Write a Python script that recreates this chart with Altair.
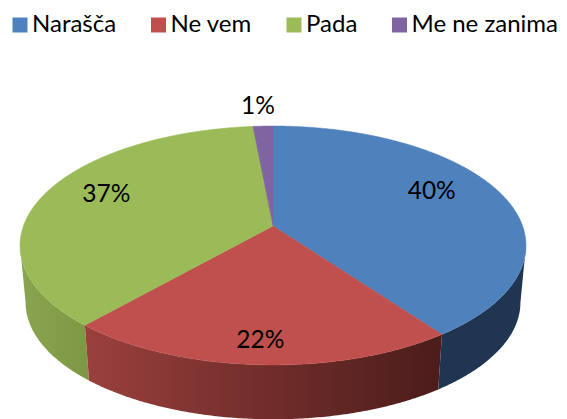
import math
import altair as alt
import pandas as pd

categories = ["Narašča", "Ne vem", "Pada", "Me ne zanima"]
shares = [40.0, 21.5, 37.0, 1.49]
labels = ["40%", "22%", "37%", "1%"]
colors = ["#4f81bd", "#c0504d", "#9bbb59", "#8064a2"]

# perspective disc: semi-axes and foreshortening
A, B, K = 249.6, 116.3, 0.163
SHRINK, DEPTH = 0.978, 57.4


def rim(theta_deg, bottom=False):
    t = math.radians(theta_deg)
    sx, sy = math.sin(t), -math.cos(t)
    w = 1 - K * sy
    x, y = A * sx / w, B * sy / w
    if bottom:
        x, y = x * SHRINK, y * SHRINK + DEPTH
    return x, y


def arc_angles(a0, a1):
    n = max(2, int(abs(a1 - a0)) * 2)
    return [a0 + (a1 - a0) * j / n for j in range(n + 1)]


total = sum(shares)
edges = [0.0]
for s in shares:
    edges.append(edges[-1] + s / total * 360)

top_rows = []
for cat, a0, a1 in zip(categories, edges[:-1], edges[1:]):
    pts = [(0.0, 0.0)] + [rim(a) for a in arc_angles(a0, a1)] + [(0.0, 0.0)]
    for i, (x, y) in enumerate(pts):
        top_rows.append({"cat": cat, "i": i, "x": x, "y": y})
top = pd.DataFrame(top_rows)


def wall(a0, a1):
    pts = [rim(a) for a in arc_angles(a0, a1)]
    pts += [rim(a, True) for a in arc_angles(a1, a0)]
    pts.append(pts[0])
    return pd.DataFrame([{"i": i, "x": x, "y": y} for i, (x, y) in enumerate(pts)])


x_scale = alt.Scale(domain=[-265, 286], nice=False, zero=False)
y_scale = alt.Scale(domain=[-218, 193], nice=False, zero=False, reverse=True)
X = alt.X("x:Q", scale=x_scale, axis=None)
Y = alt.Y("y:Q", scale=y_scale, axis=None)


def grad(c0, c1):
    return alt.Gradient(
        gradient="linear", x1=0, x2=1, y1=0, y2=0,
        stops=[alt.GradientStop(color=c0, offset=0), alt.GradientStop(color=c1, offset=1)],
    )


def wall_layer(a0, a1, fill):
    return (
        alt.Chart(wall(a0, a1))
        .mark_line(fill=fill, strokeWidth=0, interpolate="linear")
        .encode(x=X, y=Y, order="i:Q")
    )


# the silhouette of the disc: the angle at which the rim is widest
side = math.degrees(math.acos(-K))
walls = [
    wall_layer(side, edges[1], "#1f3552"),
    wall_layer(edges[2], 360 - side, grad("#8aa54f", "#7d9743")),
    wall_layer(edges[1], edges[2], grad("#9a403d", "#4a1c1a")),
]

faces = (
    alt.Chart(top)
    .mark_line(strokeWidth=0.5, interpolate="linear")
    .encode(
        x=X,
        y=Y,
        order="i:Q",
        detail="cat:N",
        stroke=alt.Stroke("cat:N", scale=alt.Scale(domain=categories, range=colors), legend=None),
        fill=alt.Fill(
            "cat:N",
            scale=alt.Scale(domain=categories, range=colors),
            legend=alt.Legend(
                title=None,
                orient="none",
                legendX=0,
                legendY=5,
                columns=4,
                columnPadding=29.5,
                symbolType="square",
                symbolSize=225,
                symbolStrokeWidth=0,
                labelFont="Lato",
                labelFontSize=24,
                labelColor="#000000",
                labelOffset=0,
                padding=0,
            ),
        ),
    )
)

# label anchors: mid-angle direction, fraction of the rim, then a nudge
fracs = [0.72, 0.82, 0.72, 1.2]
nudge = [(-4, -9), (-1, 1), (-4, -6), (-3, 1)]
label_rows = []
for lab, a0, a1, f, (nx, ny) in zip(labels, edges[:-1], edges[1:], fracs, nudge):
    x, y = rim((a0 + a1) / 2)
    label_rows.append({"label": lab, "x": x * f + nx, "y": y * f + ny})
texts = (
    alt.Chart(pd.DataFrame(label_rows))
    .mark_text(font="Lato", fontSize=24.5, color="#000000", align="center", baseline="middle")
    .encode(x=X, y=Y, text="label:N")
)

chart = (
    alt.layer(*walls, faces, texts)
    .properties(width=551, height=411, padding=0, autosize=alt.AutoSizeParams(type="none"), background="white")
    .configure_view(stroke=None)
)

chart.save("out.html", embed_options={"renderer": "svg", "actions": False})
